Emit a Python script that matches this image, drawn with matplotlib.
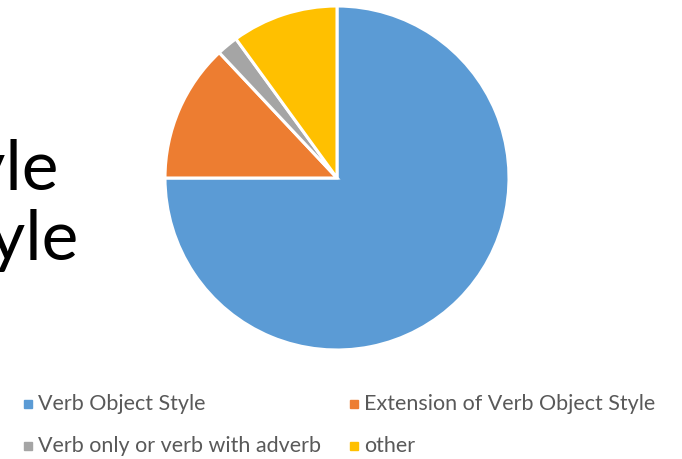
import matplotlib.pyplot as plt
from matplotlib.patches import Rectangle

# data
labels = ["Verb Object Style", "Extension of Verb Object Style",
          "Verb only or verb with adverb", "other"]
values = [75, 13, 2, 10]
colors = ["#5b9bd5", "#ed7d31", "#a5a5a5", "#ffc000"]

W, H = 682, 459
fig = plt.figure(figsize=(W / 100, H / 100), dpi=100)
fig.patch.set_facecolor("white")

# slide text behind the chart (cut off at the left edge, as in the slide)
fig.text(58 / W, 1 - 189 / H, "Verb Object Style", fontsize=50, family="Lato",
         ha="right", va="baseline", color="black")
fig.text(78 / W, 1 - 260 / H, "Extension of Verb Object Style", fontsize=50,
         family="Lato", ha="right", va="baseline", color="black")

# pie
cx, cy, r = 337, 178, 172
ax = fig.add_axes([(cx - r) / W, (H - cy - r) / H, 2 * r / W, 2 * r / H])
ax.pie(values, colors=colors, startangle=90, counterclock=False, radius=1,
       wedgeprops=dict(edgecolor="white", linewidth=2.2))
ax.set_xlim(-1, 1)
ax.set_ylim(-1, 1)
ax.set_aspect("equal")
ax.axis("off")

# legend, two columns
col_x = [24, 350]
row_y = [404, 446]
for i, (lab, c) in enumerate(zip(labels, colors)):
    x = col_x[i % 2]
    y = row_y[i // 2]
    fig.patches.append(Rectangle((x / W, (H - y - 4) / H), 8 / W, 8 / H,
                                 transform=fig.transFigure, color=c))
    fig.text((x + 14) / W, 1 - y / H, lab, fontsize=15.5, family="Lato",
             color="#595959", ha="left", va="center")

fig.savefig("out.png", dpi=100, facecolor="white")
